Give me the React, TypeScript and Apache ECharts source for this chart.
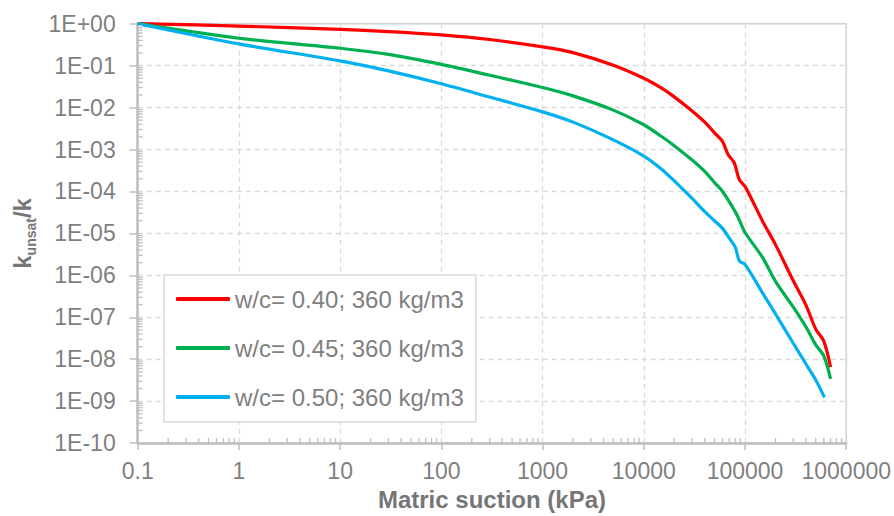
import React, { useEffect, useRef } from "react";
import * as echarts from "echarts";

// ---- data ----
const SERIES_NAMES = ["w/c= 0.40; 360 kg/m3", "w/c= 0.45; 360 kg/m3", "w/c= 0.50; 360 kg/m3"];
const SERIES_COLORS = ["#FF0000", "#00B050", "#00B0F0"];

const SUCTION_040 = [0.1, 1, 10, 30, 100, 300, 1000, 2000, 5000, 10000, 15000, 20000, 30000, 40000, 50000, 60000, 68000, 78000, 88000, 100000, 150000, 200000, 300000, 400000, 500000, 600000, 700000];
const K_040 = [1, 0.88, 0.73, 0.65, 0.54, 0.42, 0.28, 0.204, 0.102, 0.05, 0.029, 0.018, 0.0083, 0.0045, 0.0025, 0.00155, 0.00076, 0.00049, 0.00019, 0.000132, 1.9e-5, 5.4e-6, 7.4e-7, 1.95e-7, 5.2e-8, 2.7e-8, 6.5e-9];

const SUCTION_045 = [0.1, 1, 10, 30, 100, 300, 1000, 2000, 5000, 10000, 15000, 20000, 30000, 40000, 50000, 60000, 80000, 90000, 100000, 150000, 200000, 300000, 400000, 500000, 600000, 700000];
const K_045 = [1, 0.45, 0.26, 0.186, 0.107, 0.059, 0.03, 0.019, 0.0087, 0.0039, 0.00204, 0.00123, 0.00056, 0.0003, 0.000162, 0.0001, 3.3e-5, 1.82e-5, 1.05e-5, 2.6e-6, 7.2e-7, 1.74e-7, 5.9e-8, 2.2e-8, 1.2e-8, 3.4e-9];

const SUCTION_050 = [0.1, 1, 10, 30, 100, 300, 1000, 2000, 5000, 10000, 15000, 20000, 30000, 40000, 50000, 60000, 70000, 80000, 88000, 100000, 150000, 200000, 300000, 400000, 500000, 610000];
const K_050 = [1, 0.33, 0.13, 0.075, 0.037, 0.0178, 0.0079, 0.0045, 0.0017, 0.0007, 0.00034, 0.000178, 6.8e-5, 3.3e-5, 2.0e-5, 1.32e-5, 7.7e-6, 4.7e-6, 2.2e-6, 1.82e-6, 3.7e-7, 1.2e-7, 2.4e-8, 7.7e-9, 3.2e-9, 1.23e-9];

const X_TICK_LABELS = ["0.1", "1", "10", "100", "1000", "10000", "100000", "1000000"];
const Y_TICK_LABELS = ["1E-10", "1E-09", "1E-08", "1E-07", "1E-06", "1E-05", "1E-04", "1E-03", "1E-02", "1E-01", "1E+00"];
const X_DECADES = [0.1, 1, 10, 100, 1000, 10000, 100000];
const Y_DECADES = [1e-10, 1e-9, 1e-8, 1e-7, 1e-6, 1e-5, 1e-4, 1e-3, 1e-2, 1e-1];
const MINOR_STEPS = [2, 3, 4, 5, 6, 7, 8, 9];

const X_MIN = 0.1;
const X_MAX = 1000000;
const Y_MIN = 1e-10;
const Y_MAX = 1;

const FONT = "'Liberation Sans', Arial, sans-serif";
const LABEL_COLOR = "#7f7f7f";
const AXIS_COLOR = "#bfbfbf";

export default function App() {
  const ref = useRef<HTMLDivElement>(null);

  useEffect(() => {
    if (!ref.current) return;
    document.body.style.margin = "0";
    const chart = echarts.init(ref.current, undefined, { renderer: "svg" });

    const pairs = (xs: number[], ys: number[]) => xs.map((x, i) => [x, ys[i]]);
    const lineData = [pairs(SUCTION_040, K_040), pairs(SUCTION_045, K_045), pairs(SUCTION_050, K_050)];

    const minorData: number[][] = [];
    X_DECADES.forEach((d) => MINOR_STEPS.forEach((s) => minorData.push([d * s, Y_MIN, 0])));
    Y_DECADES.forEach((d) => MINOR_STEPS.forEach((s) => minorData.push([X_MIN, d * s, 1])));

    const option: any = {
      animation: false,
      textStyle: { fontFamily: FONT },
      grid: {
        left: 137.7,
        right: 47.3,
        top: 23.7,
        bottom: 71.7,
        show: true,
        borderColor: "#cfcfcf",
        borderWidth: 1.5,
        backgroundColor: "transparent",
      },
      legend: {
        data: SERIES_NAMES,
        orient: "vertical",
        left: 164,
        top: 275,
        padding: [12, 12, 13, 12],
        itemGap: 25,
        itemWidth: 54,
        itemHeight: 4,
        icon: "roundRect",
        backgroundColor: "#ffffff",
        borderColor: "#d9d9d9",
        borderWidth: 1.5,
        textStyle: { fontFamily: FONT, fontSize: 24, color: LABEL_COLOR, lineHeight: 24 },
      },
      xAxis: {
        type: "log",
        logBase: 10,
        min: X_MIN,
        max: X_MAX,
        interval: 1,
        name: "Matric suction (kPa)",
        nameLocation: "middle",
        nameGap: 40,
        nameTextStyle: { fontFamily: FONT, fontSize: 24, fontWeight: "bold", color: "#767676" },
        axisLine: { show: true, lineStyle: { color: AXIS_COLOR, width: 2.5 } },
        axisTick: { show: true, inside: false, length: 7, lineStyle: { color: AXIS_COLOR, width: 1.5 } },
        axisLabel: {
          margin: 16,
          fontFamily: FONT,
          fontSize: 23,
          color: LABEL_COLOR,
          formatter: (v: number) => X_TICK_LABELS[Math.round(Math.log10(v)) + 1] ?? "",
        },
        splitLine: { show: true, lineStyle: { color: "#d9d9d9", width: 1.3, type: [5, 4] } },
      },
      yAxis: {
        type: "log",
        logBase: 10,
        min: Y_MIN,
        max: Y_MAX,
        interval: 1,
        name: "{k|k}{sub|unsat}{k|/k}",
        nameLocation: "middle",
        nameGap: 100,
        nameTextStyle: {
          rich: {
            k: { fontFamily: FONT, fontSize: 24, fontWeight: "bold", color: "#767676", lineHeight: 28, verticalAlign: "bottom" },
            sub: { fontFamily: FONT, fontSize: 14, fontWeight: "bold", color: "#767676", lineHeight: 28, verticalAlign: "bottom", padding: [0, 0, -3, 0] },
          },
        },
        axisLine: { show: true, lineStyle: { color: AXIS_COLOR, width: 2.5 } },
        axisTick: { show: true, inside: false, length: 8, lineStyle: { color: AXIS_COLOR, width: 1.5 } },
        axisLabel: {
          margin: 22,
          fontFamily: FONT,
          fontSize: 23,
          color: LABEL_COLOR,
          formatter: (v: number) => Y_TICK_LABELS[Math.round(Math.log10(v)) + 10] ?? "",
        },
        splitLine: { show: true, lineStyle: { color: "#d9d9d9", width: 1.3, type: [5, 4] } },
      },
      series: [
        ...SERIES_NAMES.map((name, i) => ({
          name,
          type: "line",
          data: lineData[i],
          showSymbol: false,
          symbol: "none",
          smooth: 0.3,
          z: 3,
          color: SERIES_COLORS[i],
          lineStyle: { color: SERIES_COLORS[i], width: 3.2 },
        })),
        {
          name: "minorTicks",
          type: "custom",
          clip: false,
          silent: true,
          z: 4,
          data: minorData,
          renderItem: (_p: any, api: any) => {
            const p = api.coord([api.value(0), api.value(1)]);
            const isY = api.value(2) === 1;
            return {
              type: "line",
              shape: isY
                ? { x1: p[0], y1: p[1], x2: p[0] + 5, y2: p[1] }
                : { x1: p[0], y1: p[1], x2: p[0], y2: p[1] - 5 },
              style: { stroke: AXIS_COLOR, lineWidth: 1.3 },
            };
          },
        },
      ],
    };

    chart.setOption(option);
    return () => chart.dispose();
  }, []);

  return (
    <div
      ref={ref}
      style={{ position: "fixed", left: 0, top: 0, width: 894, height: 516, background: "#fff" }}
    />
  );
}
